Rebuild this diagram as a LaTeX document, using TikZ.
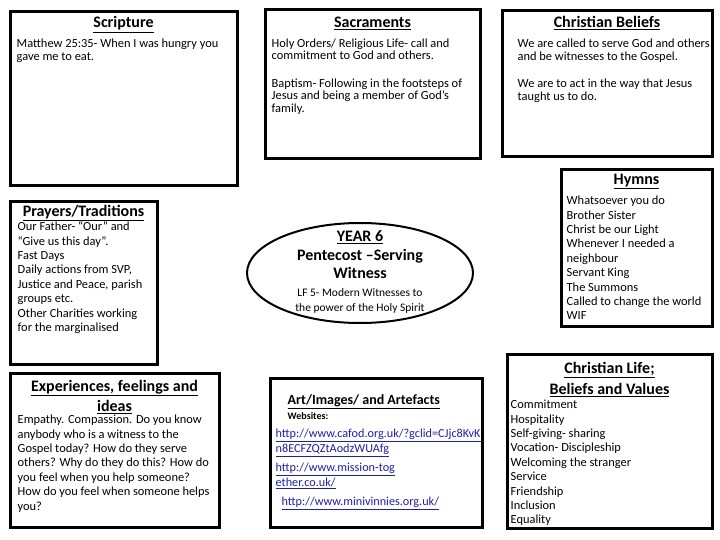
\documentclass[tikz,border=0pt]{standalone}
\usepackage{fontspec}
\setmainfont{Carlito}
\usepackage{tikz}
\usetikzlibrary{shapes.geometric, positioning, backgrounds}
\definecolor{linkblue}{HTML}{1F1FA8}
\newcommand{\bodystrut}{\rule{0pt}{11.5pt}}
\newcommand{\headstrut}{\rule{0pt}{15pt}}

\begin{document}
\begin{tikzpicture}[x=1pt, y=-1pt,
    card/.style={draw, line width=3pt, fill=white, inner sep=0pt},
    spoke/.style={line width=3pt},
    head/.style={font=\fontsize{16}{20}\selectfont\bfseries, align=center, inner sep=0pt, anchor=base},
    headblock/.style={head, anchor=north},
    body/.style={font=\fontsize{12.4}{12.5}\selectfont, align=left, inner sep=0pt, anchor=north west},
    listing/.style={body, font=\fontsize{12.4}{14.4}\selectfont},
    link/.style={font=\fontsize{12.2}{14.5}\selectfont, text=linkblue, align=left, inner sep=0pt, anchor=north west},
]
\useasboundingbox[fill=white] (0,0) rectangle (720,540);

% boxes round the centre
\node[card, minimum width=227pt, minimum height=174pt] (scr) at (123.5,99) {};
\node[card, minimum width=215pt, minimum height=149pt] (sac) at (372.5,84.5) {};
\node[card, minimum width=210pt, minimum height=146pt] (bel) at (607,84) {};
\node[card, minimum width=151pt, minimum height=156pt] (hym) at (636.5,248) {};
\node[card, minimum width=147pt, minimum height=162pt] (pra) at (83.5,283) {};
\node[card, minimum width=209pt, minimum height=154pt] (exp) at (114.5,450) {};
\node[card, minimum width=212pt, minimum height=149pt] (art) at (376,452.5) {};
\node[card, minimum width=205pt, minimum height=174pt] (lif) at (609.5,441) {};
\node[ellipse, draw, line width=2pt, fill=white, inner sep=0pt,
      minimum width=226pt, minimum height=100pt] (core) at (360,273) {};

% spokes
\begin{scope}[on background layer]
\draw[spoke] (core.north) -- (core.north |- sac.south);
\draw[spoke] (core.south) -- (core.south |- art.north);
\draw[spoke] (core.west) -- (core.west -| pra.east);
\draw[spoke] (core.east) -- (core.east -| hym.west);
\draw[spoke] (core.147) -- ([xshift=10pt]scr.south);
\draw[spoke] (core.28) -- ([xshift=21pt]bel.south west);
\draw[spoke] (core.205) -- ([xshift=-44pt]exp.north east);
\draw[spoke] (core.335) -- ([xshift=86pt]lif.north west);
\end{scope}

% centre
\node[headblock, font=\fontsize{16}{18.5}\selectfont\bfseries] (coreh) at ([yshift=-4.5pt]core.north)
  {\headstrut\underline{YEAR 6}\\Pentecost –Serving\\Witness};
\node[headblock, font=\fontsize{11.5}{15}\selectfont] (coret) at ([yshift=-62.5pt]core.north)
  {\bodystrut LF 5- Modern Witnesses to\\the power of the Holy Spirit};

% Scripture
\node[head] (scrh) at ([yshift=-17.5pt]scr.north) {\underline{Scripture}};
\node[body] (scrt) at ([shift={(8,25.5)}]scr.north west)
  {\bodystrut Matthew 25:35- When I was hungry you\\gave me to eat.};

% Sacraments
\node[head] (sach) at ([yshift=-19pt]sac.north) {\underline{Sacraments}};
\node[body] (sact) at ([shift={(8,27.2)}]sac.north west)
  {\bodystrut Holy Orders/ Religious Life- call and\\commitment to God and others.\\[15pt]
   Baptism- Following in the footsteps of\\Jesus and being a member of God’s\\family.};

% Christian Beliefs
\node[head] (belh) at ([yshift=-18pt]bel.north) {\underline{Christian Beliefs}};
\node[body] (belt) at ([shift={(17,26.5)}]bel.north west)
  {\bodystrut We are called to serve God and others\\and be witnesses to the Gospel.\\[15pt]
   We are to act in the way that Jesus\\taught us to do.};

% Hymns
\node[head] (hymh) at ([yshift=-16pt]hym.north) {\underline{Hymns}};
\node[listing] (hymt) at ([shift={(7,24.5)}]hym.north west)
  {\bodystrut Whatsoever you do\\Brother Sister\\Christ be our Light\\Whenever I needed a\\neighbour\\
   Servant King\\The Summons\\Called to change the world\\WIF};

% Prayers/Traditions
\node[head] (prah) at ([yshift=-15.5pt]pra.north) {\underline{Prayers/Traditions}};
\node[listing] (prat) at ([shift={(9,18.5)}]pra.north west)
  {\bodystrut Our Father- “Our” and\\“Give us this day”.\\Fast Days\\Daily actions from SVP,\\
   Justice and Peace, parish\\groups etc.\\Other Charities working\\for the marginalised};

% Experiences
\node[headblock] (exph) at ([yshift=-4.5pt]exp.north)
  {\headstrut\underline{Experiences, feelings and}\\\underline{ideas}};
\node[listing] (expt) at ([shift={(9,40.5)}]exp.north west)
  {\bodystrut Empathy. Compassion. Do you know\\anybody who is a witness to the\\Gospel today? How do they serve\\
   others? Why do they do this? How do\\you feel when you help someone?\\
   How do you feel when someone helps\\you?};

% Art
\node[head, anchor=base west, font=\fontsize{14}{16}\selectfont\bfseries] (arth) at ([shift={(19,28)}]art.north west)
  {\underline{Art/Images/ and Artefacts}};
\node[head, anchor=base west, font=\fontsize{10}{12}\selectfont\bfseries] (artw) at ([shift={(19,43)}]art.north west)
  {Websites:};
\node[link] (artl) at ([shift={(7,49.5)}]art.north west)
  {\bodystrut\underline{http://www.cafod.org.uk/?gclid=CJjc8KvK}\\\underline{n8ECFZQZtAodzWUAfg}\\[5pt]
   \underline{http://www.mission-tog}\\\underline{ether.co.uk/}\\[5pt]
   \hspace*{6pt}\underline{http://www.minivinnies.org.uk/}};

% Christian Life
\node[headblock, font=\fontsize{16}{21}\selectfont\bfseries] (lifh) at ([yshift=-5.5pt]lif.north)
  {\headstrut\underline{Christian Life;}\\\underline{Beliefs and Values}};
\node[listing] (lift) at ([shift={(5,44.5)}]lif.north west)
  {\bodystrut Commitment\\Hospitality\\Self-giving- sharing\\Vocation- Discipleship\\Welcoming the stranger\\
   Service\\Friendship\\Inclusion\\Equality};
\end{tikzpicture}
\end{document}
